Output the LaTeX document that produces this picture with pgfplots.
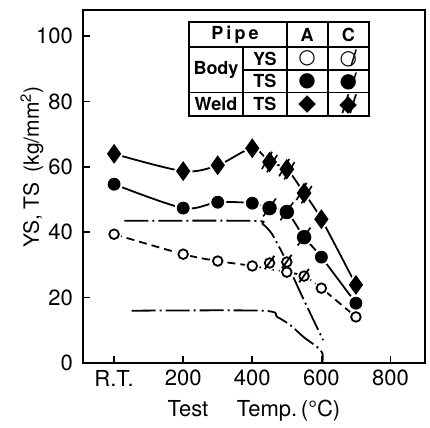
\documentclass[border=0pt]{standalone}
\usepackage{fontspec}
\setmainfont{TeX Gyre Heros}
\newfontfamily\sym{DejaVu Sans}
\usepackage{pgfplots}
\usepackage{pgfplotstable}
\pgfplotsset{compat=1.18}
\usetikzlibrary{plotmarks}

% filled diamond
\pgfdeclareplotmark{dia}{%
  \pgfpathmoveto{\pgfqpoint{0pt}{1.4\pgfplotmarksize}}%
  \pgfpathlineto{\pgfqpoint{\pgfplotmarksize}{0pt}}%
  \pgfpathlineto{\pgfqpoint{0pt}{-1.4\pgfplotmarksize}}%
  \pgfpathlineto{\pgfqpoint{-\pgfplotmarksize}{0pt}}%
  \pgfpathclose\pgfusepathqfillstroke}
% diamond with two slashes (pipe C, weld)
\pgfdeclareplotmark{dslash}{%
  \pgfpathmoveto{\pgfqpoint{0pt}{1.4\pgfplotmarksize}}%
  \pgfpathlineto{\pgfqpoint{\pgfplotmarksize}{0pt}}%
  \pgfpathlineto{\pgfqpoint{0pt}{-1.4\pgfplotmarksize}}%
  \pgfpathlineto{\pgfqpoint{-\pgfplotmarksize}{0pt}}%
  \pgfpathclose\pgfusepathqfillstroke
  \pgfpathmoveto{\pgfqpoint{-1.2\pgfplotmarksize}{-1.1\pgfplotmarksize}}%
  \pgfpathlineto{\pgfqpoint{0.4\pgfplotmarksize}{1.6\pgfplotmarksize}}%
  \pgfpathmoveto{\pgfqpoint{-0.4\pgfplotmarksize}{-1.6\pgfplotmarksize}}%
  \pgfpathlineto{\pgfqpoint{1.2\pgfplotmarksize}{1.1\pgfplotmarksize}}%
  \pgfusepathqstroke}
% circle with slash (pipe C)
\pgfdeclareplotmark{cslash}{%
  \pgfpathcircle{\pgfpointorigin}{\pgfplotmarksize}\pgfusepathqfillstroke
  \pgfpathmoveto{\pgfqpoint{-1.0\pgfplotmarksize}{-1.3\pgfplotmarksize}}%
  \pgfpathlineto{\pgfqpoint{1.0\pgfplotmarksize}{1.5\pgfplotmarksize}}%
  \pgfusepathqstroke}

\pgfplotstableread{
x y
0 64.0
200 58.7
300 60.5
400 65.7
600 44.0
700 23.9
}\weldA
\pgfplotstableread{
x y
450 61.5
500 59.3
550 52.0
}\weldC
\pgfplotstableread{
x y
0 54.7
200 47.4
300 49.2
400 48.9
600 32.4
700 18.3
}\tsA
\pgfplotstableread{
x y
450 47.4
500 46.2
550 38.5
}\tsC
\pgfplotstableread{
x y
0 39.4
200 33.3
300 31.2
400 29.7
500 27.8
600 22.9
700 14.1
}\ysA
\pgfplotstableread{
x y
450 30.6
500 30.9
550 26.6
}\ysC

\begin{document}
\begin{tikzpicture}
\begin{axis}[
  scale only axis,
  width=171pt, height=176.5pt,
  xmin=-90, xmax=900, ymin=0, ymax=108,
  axis line style={line width=1pt},
  xtick={0,200,400,600,800},
  xticklabels={R.T.,200,400,600,800},
  ytick={0,20,40,60,80,100},
  tick align=inside, xtick pos=bottom, ytick pos=left,
  major tick length=3.5pt,
  tick style={line width=0.8pt, black},
  tick label style={font=\fontsize{11}{13}\selectfont},
  yticklabel style={xshift=-1.5pt},
  /pgf/number format/assume math mode=true,
  xlabel={Test\hspace{1.3em}Temp.\,(°C)},
  ylabel={YS, TS\hspace{0.5em}(kg/mm\textsuperscript{2})},
  every axis x label/.style={at={(axis description cs:0.5,0)}, anchor=center, yshift=-24pt, font=\fontsize{11}{13}\selectfont},
  every axis y label/.style={at={(axis description cs:-0.149,0.555)}, rotate=90, anchor=center, font=\fontsize{10.5}{13}\selectfont},
  halo/.style={only marks, forget plot, mark options={draw=white, fill=white, line width=2.6pt}},
]
% dash-dot reference curves
\addplot[black, line width=0.9pt, smooth, dash pattern=on 12pt off 2pt on 1pt off 2pt] coordinates {
  (30,43.5) (400,43.5) (430,42.5) (455,39.8) (475,36.0) (490,33.0) (540,21.4) (605,7.0)
};
\addplot[black, line width=0.9pt, smooth, dash pattern=on 12pt off 2pt on 1pt off 2pt] coordinates {
  (51,16.0) (429,16.0) (472,14.1) (510,11.6) (548,8.0) (588,4.9) (603,3.0) (603,0)
};
% weld TS
\addplot[black, line width=0.9pt, smooth] coordinates {
  (0,64.0) (200,58.7) (300,60.5) (400,65.7) (450,61.5) (500,59.3) (550,52.0) (600,44.0) (700,23.9)
};
% body TS
\addplot[black, line width=0.9pt, smooth] coordinates {
  (0,54.7) (200,47.4) (300,49.2) (400,48.9) (450,47.4) (500,46.2) (550,38.5) (600,32.4) (700,18.3)
};
% body YS
\addplot[black, line width=0.9pt, smooth, dash pattern=on 4pt off 2.5pt] coordinates {
  (0,39.4) (200,33.3) (300,31.2) (400,29.7) (500,27.8) (550,26.6) (600,22.9) (700,14.1)
};
% white halos round the marks
\addplot[halo, mark=dia, mark size=3.2pt] table {\weldA};
\addplot[halo, mark=dslash, mark size=3.2pt] table {\weldC};
\addplot[halo, mark=*, mark size=3pt] table {\tsA};
\addplot[halo, mark=cslash, mark size=3.2pt] table {\tsC};
\addplot[halo, mark=*, mark size=2.4pt] table {\ysA};
\addplot[halo, mark=cslash, mark size=2.4pt] table {\ysC};
% marks
\addplot[only marks, mark=dia, mark size=3.2pt, mark options={draw=black, fill=black, line width=0.6pt}] table {\weldA};
\addplot[only marks, mark=dslash, mark size=3.2pt, mark options={draw=black, fill=black, line width=0.8pt}] table {\weldC};
\addplot[only marks, mark=*, mark size=3pt, mark options={draw=black, fill=black}] table {\tsA};
\addplot[only marks, mark=cslash, mark size=3.2pt, mark options={draw=black, fill=black, line width=0.8pt}] table {\tsC};
\addplot[only marks, mark=*, mark size=2.4pt, mark options={draw=black, fill=white, line width=0.9pt}] table {\ysA};
\addplot[only marks, mark=cslash, mark size=2.4pt, mark options={draw=black, fill=white, line width=0.9pt}] table {\ysC};
% legend table
\draw[line width=1pt] (axis cs:217,75.5) rectangle (axis cs:737,104.3);
\draw[line width=0.8pt] (axis cs:217,96.6) -- (axis cs:737,96.6);
\draw[line width=0.8pt] (axis cs:373,89.6) -- (axis cs:737,89.6);
\draw[line width=0.8pt] (axis cs:217,82.8) -- (axis cs:737,82.8);
\draw[line width=0.8pt] (axis cs:373,75.5) -- (axis cs:373,96.6);
\draw[line width=0.8pt] (axis cs:500,75.5) -- (axis cs:500,104.3);
\draw[line width=0.8pt] (axis cs:618.5,75.5) -- (axis cs:618.5,104.3);
\begin{scope}[every node/.style={font=\bfseries\fontsize{9}{10}\selectfont, inner sep=0pt}]
\node at (axis cs:350,100.45) {P\,i\,p\,e};
\node at (axis cs:559,100.45) {A};
\node at (axis cs:678,100.45) {C};
\node at (axis cs:295,89.7) {Body};
\node at (axis cs:436.5,93.1) {YS};
\node at (axis cs:436.5,86.2) {TS};
\node at (axis cs:295,79.15) {Weld};
\node at (axis cs:436.5,79.15) {TS};
\end{scope}
\begin{scope}[every node/.style={font=\sym\fontsize{10}{10}\selectfont, inner sep=0pt}]
\node at (axis cs:559,93.1) {○};
\node at (axis cs:559,86.2) {●};
\node[font=\sym\fontsize{11.5}{11}\selectfont] at (axis cs:559,79.15) {◆};
\node at (axis cs:678,93.1) {○\llap{/}};
\node at (axis cs:678,86.2) {●\llap{/}};
\node[font=\sym\fontsize{11.5}{11}\selectfont] at (axis cs:678,79.15) {◆\llap{//}};
\end{scope}
\end{axis}
\pgfresetboundingbox
\path ([xshift=-41.5pt,yshift=-32pt]current axis.south west) rectangle ([xshift=2.5pt,yshift=5pt]current axis.north east);
\end{tikzpicture}
\end{document}
